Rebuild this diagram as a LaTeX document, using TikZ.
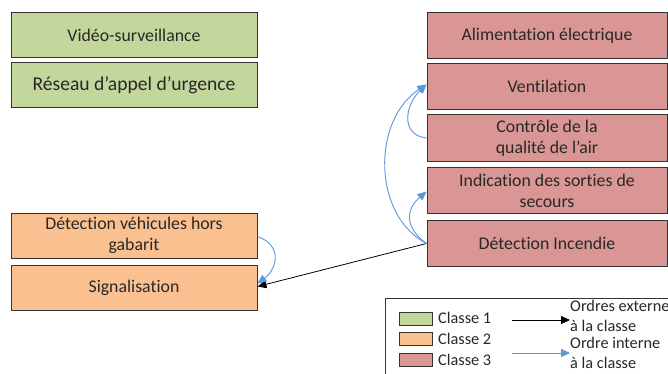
\documentclass[tikz,border=0pt]{standalone}
\usepackage{fontspec}
\setmainfont{Carlito}[Ligatures=NoCommon]
\usetikzlibrary{arrows.meta}
\definecolor{cgreen}{RGB}{195,214,155}
\definecolor{corange}{RGB}{250,192,144}
\definecolor{cred}{RGB}{217,150,148}
\definecolor{cblue}{RGB}{91,150,220}
\definecolor{ctext}{RGB}{40,40,40}
\tikzset{
  box/.style={draw=black!80, line width=1pt, inner sep=0pt, align=center,
    text=ctext, font=\fontsize{17.8}{21}\selectfont},
  lbox/.style={box, minimum width=246pt, minimum height=45pt},
  rbox/.style={box, minimum width=240pt, minimum height=46pt},
  swatch/.style={draw=black!80, line width=1pt, minimum width=33pt, minimum height=13pt, inner sep=0pt},
  ltext/.style={text=ctext, font=\fontsize{16.3}{20}\selectfont, inner sep=0pt, align=left},
  ext/.style={draw=black, line width=0.8pt, -{Triangle[length=9pt,width=8pt]}},
  int/.style={draw=cblue, line width=0.9pt, -{Triangle[length=9pt,width=8pt]}}
}
\begin{document}
\begin{tikzpicture}[x=1pt,y=-1pt]
\clip (0,0) rectangle (668,374);
\fill[white] (0,0) rectangle (668,374);
% left column
\node[lbox, fill=cgreen] (video) at (134,35.5) {Vidéo-surveillance};
\node[lbox, fill=cgreen, font=\fontsize{19.6}{23}\selectfont] (reseau) at (134,85.5) {Réseau d’appel d’urgence};
\node[lbox, fill=corange] (veh) at (134,235.5) {Détection véhicules hors\\gabarit};
\node[lbox, fill=corange] (sig) at (134,287.5) {Signalisation};
% right column
\node[rbox, fill=cred] (alim) at (547,35.5) {Alimentation électrique};
\node[rbox, fill=cred] (vent) at (547,86.5) {Ventilation};
\node[rbox, fill=cred] (qual) at (547,138) {Contrôle de la\\qualité de l’air};
\node[rbox, fill=cred] (ind) at (547,190.5) {Indication des sorties de\\secours};
\node[rbox, fill=cred] (inc) at (547,243.5) {Détection Incendie};
% connectors
\draw[ext] (inc.west) -- ([yshift=1pt]sig.east);
\draw[int] ([yshift=-1pt]veh.east) .. controls (282,245) and (278,268) .. ([yshift=4pt]sig.east);
\draw[int] (inc.west) .. controls (372,215) and (372,120) .. ([yshift=2pt]vent.west);
\draw[int] (qual.west) .. controls (400,135) and (405,105) .. ([yshift=2pt]vent.west);
\draw[int] (inc.west) .. controls (405,228) and (405,210) .. ([yshift=-1pt]ind.west);
% legend
\draw[black!80, line width=1pt] (385,298) rectangle (700,400);
\node[swatch, fill=cgreen] (s1) at (415.5,318.5) {};
\node[swatch, fill=corange] (s2) at (415.5,338.5) {};
\node[swatch, fill=cred] (s3) at (415.5,359.5) {};
\node[ltext, anchor=west] (t1) at (438,318) {Classe 1};
\node[ltext, anchor=west] (t2) at (438,339) {Classe 2};
\node[ltext, anchor=west] (t3) at (438,360) {Classe 3};
\coordinate (a1) at (512,320);
\coordinate (b1) at (570,320);
\coordinate (a2) at (512,353);
\coordinate (b2) at (570,353);
\draw[ext] (a1) -- (b1);
\draw[int] (a2) -- (b2);
\node[ltext, anchor=west] (o1) at (570,316) {Ordres externe\\à la classe};
\node[ltext, anchor=west] (o2) at (570,353) {Ordre interne\\à la classe};
\end{tikzpicture}
\end{document}
